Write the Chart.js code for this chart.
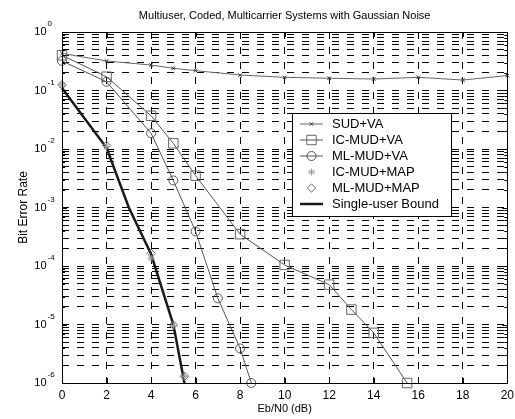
<!DOCTYPE html>
<html>
<head>
<meta charset="utf-8">
<script src="https://cdn.jsdelivr.net/npm/chart.js@4.4.1/dist/chart.umd.min.js"></script>
<style>
  html, body { margin: 0; padding: 0; background: #fff; }
  canvas { display: block; }
</style>
</head>
<body>
<canvas id="ber" width="515" height="419"></canvas>
<script>
// values (Eb/N0 in dB, bit error rate)
const ebn0Sud = [0, 2, 4, 5, 6, 8, 10, 12, 14, 16, 18, 20];
const berSud = [0.43, 0.32, 0.272, 0.24, 0.218, 0.184, 0.168, 0.162, 0.157, 0.168, 0.151, 0.18];

const ebn0IcVa = [0, 2, 4, 5, 6, 8, 10, 12, 13, 14, 15.5];
const berIcVa = [0.40, 0.172, 0.037, 0.0125, 0.0035, 3.5e-4, 1.04e-4, 4.8e-5, 1.8e-5, 7.2e-6, 1e-6];

const ebn0MlVa = [0, 2, 4, 5, 6, 7, 8, 8.5];
const berMlVa = [0.32, 0.141, 0.0186, 0.0029, 3.9e-4, 2.8e-5, 3.9e-6, 1e-6];

const ebn0Map = [0, 2, 4, 5, 5.5];
const berIcMap = [0.125, 0.011, 1.35e-4, 9.5e-6, 1.3e-6];
const berMlMap = [0.125, 0.0115, 1.65e-4, 9.8e-6, 1.3e-6];

const ebn0Bound = [0, 1, 2, 3, 4, 5, 5.5];
const berBound = [0.11, 0.034, 0.0105, 1.0e-3, 1.6e-4, 1.0e-5, 1e-6];

const seriesNames = ['SUD+VA', 'IC-MUD+VA', 'ML-MUD+VA', 'IC-MUD+MAP', 'ML-MUD+MAP', 'Single-user Bound'];

// axis ticks
const xTicks = [0, 2, 4, 6, 8, 10, 12, 14, 16, 18, 20];
const yDecades = [0, -1, -2, -3, -4, -5, -6];
const yMantissas = [1, 2, 3, 4, 5, 6, 7, 8, 9];

const FONT = "'Liberation Sans', Arial, Helvetica, sans-serif";

const pts = (xs, ys) => xs.map((x, i) => ({ x: x, y: ys[i] }));

let yTickValues = [];
yDecades.forEach(e => {
    yMantissas.forEach(m => {
        let v = m * Math.pow(10, e);
        if (v <= 1.0000001) yTickValues.push(v);
    });
});

const series = (label, data, opts) => Object.assign({
    label: label,
    data: data,
    borderColor: '#555',
    borderWidth: 1,
    pointBorderColor: '#555',
    pointBackgroundColor: 'rgba(0,0,0,0)',
    pointBorderWidth: 1,
    tension: 0,
    clip: 10
}, opts);

// axes box, inward ticks, y labels with exponents, legend
const decor = {
    id: 'decor',
    afterDraw(chart) {
        const ctx = chart.ctx,
            a = chart.chartArea,
            xs = chart.scales.x,
            ys = chart.scales.y;
        ctx.save();
        ctx.strokeStyle = '#000';
        ctx.lineWidth = 1;
        ctx.setLineDash([]);
        ctx.strokeRect(Math.round(a.left) + 0.5, Math.round(a.top) + 0.5,
            Math.round(a.right - a.left), Math.round(a.bottom - a.top));

        ctx.beginPath();
        xTicks.forEach(t => {
            let x = Math.round(xs.getPixelForValue(t)) + 0.5;
            ctx.moveTo(x, a.bottom); ctx.lineTo(x, a.bottom - 5);
            ctx.moveTo(x, a.top); ctx.lineTo(x, a.top + 5);
        });
        yTickValues.forEach(v => {
            let y = Math.round(ys.getPixelForValue(v)) + 0.5,
                major = Math.abs(Math.log10(v) - Math.round(Math.log10(v))) < 1e-6,
                len = major ? 5 : 3;
            ctx.moveTo(a.left, y); ctx.lineTo(a.left + len, y);
            ctx.moveTo(a.right, y); ctx.lineTo(a.right - len, y);
        });
        ctx.stroke();

        // y tick labels 10^e
        ctx.fillStyle = '#000';
        ctx.textBaseline = 'middle';
        yDecades.forEach(e => {
            let y = ys.getPixelForValue(Math.pow(10, e));
            ctx.font = '11px ' + FONT;
            ctx.textAlign = 'right';
            ctx.fillText('10', 46.5, y);
            ctx.font = '8px ' + FONT;
            ctx.textAlign = 'left';
            ctx.fillText(String(e), 47.5, y - 8);
        });

        // legend
        const lx = 292, ly = 113, lw = 159, lh = 103;
        ctx.fillStyle = '#fff';
        ctx.fillRect(lx, ly, lw, lh);
        ctx.strokeStyle = '#000';
        ctx.lineWidth = 1;
        ctx.strokeRect(lx + 0.5, ly + 0.5, lw, lh);
        chart.data.datasets.forEach((ds, i) => {
            let y = 124 + i * 16;
            ctx.strokeStyle = ds.borderColor;
            ctx.lineWidth = ds.borderWidth;
            if (ds.showLine !== false) {
                ctx.beginPath();
                ctx.moveTo(300, y); ctx.lineTo(323, y);
                ctx.stroke();
            }
            if (ds.pointRadius > 0) {
                ctx.fillStyle = 'rgba(0,0,0,0)';
                ctx.strokeStyle = ds.pointBorderColor;
                ctx.lineWidth = 1;
                Chart.helpers.drawPoint(ctx, {
                    pointStyle: ds.pointStyle, radius: ds.pointRadius,
                    borderWidth: 1, rotation: 0
                }, 311.5, y);
            }
            ctx.fillStyle = '#000';
            ctx.font = '13px ' + FONT;
            ctx.textAlign = 'left';
            ctx.textBaseline = 'middle';
            ctx.fillText(ds.label, 332, y);
        });
        ctx.restore();
    }
};

new Chart(document.getElementById('ber'), {
    type: 'line',
    data: {
        datasets: [
            series(seriesNames[0], pts(ebn0Sud, berSud), { pointStyle: 'crossRot', pointRadius: 2.5, borderColor: '#666', pointBorderColor: '#333' }),
            series(seriesNames[1], pts(ebn0IcVa, berIcVa), { pointStyle: 'rect', pointRadius: 6.7, borderColor: '#555', pointBorderColor: '#666' }),
            series(seriesNames[2], pts(ebn0MlVa, berMlVa), { pointStyle: 'circle', pointRadius: 4.5, borderColor: '#555', pointBorderColor: '#555' }),
            series(seriesNames[3], pts(ebn0Map, berIcMap), { pointStyle: 'star', pointRadius: 3.5, showLine: false, pointBorderColor: '#999', borderColor: '#999' }),
            series(seriesNames[4], pts(ebn0Map, berMlMap), { pointStyle: 'rectRot', pointRadius: 4.2, showLine: false, pointBorderColor: '#666', borderColor: '#666' }),
            series(seriesNames[5], pts(ebn0Bound, berBound), { pointRadius: 0, borderColor: '#1a1a1a', borderWidth: 2.5 })
        ]
    },
    options: {
        responsive: false,
        animation: false,
        devicePixelRatio: 1,
        layout: { padding: { left: 0, right: 2, top: 0, bottom: 0 } },
        plugins: {
            legend: { display: false },
            tooltip: { enabled: false },
            title: {
                display: true,
                text: 'Multiuser, Coded, Multicarrier Systems with Gaussian Noise',
                fullSize: false,
                color: '#000',
                font: { family: FONT, size: 11, weight: 'normal' },
                padding: { top: 9, bottom: 9.8 }
            }
        },
        scales: {
            x: {
                type: 'linear',
                min: 0, max: 20,
                afterBuildTicks: s => { s.ticks = xTicks.map(v => ({ value: v })); },
                afterFit: s => { s.height = 36; s.paddingRight = 0; },
                ticks: { color: '#000', padding: 5, font: { family: FONT, size: 12 }, maxRotation: 0 },
                grid: { color: '#000', lineWidth: 1, drawTicks: false },
                border: { display: false, dash: [7, 8] },
                title: { display: true, text: 'Eb/N0 (dB)', color: '#000', font: { family: FONT, size: 11 }, padding: { top: 0, bottom: 3.4 } }
            },
            y: {
                type: 'logarithmic',
                min: 1e-6, max: 1,
                afterBuildTicks: s => { s.ticks = yTickValues.map(v => ({ value: v })); },
                afterFit: s => { s.width = 62; },
                ticks: { display: false },
                grid: { color: '#000', lineWidth: 1, drawTicks: false },
                border: { display: false, dash: [7, 8] },
                title: { display: true, text: 'Bit Error Rate', color: '#000', font: { family: FONT, size: 12 }, padding: { top: 16.3, bottom: 0 } }
            }
        }
    },
    plugins: [decor]
});
</script>
</body>
</html>
